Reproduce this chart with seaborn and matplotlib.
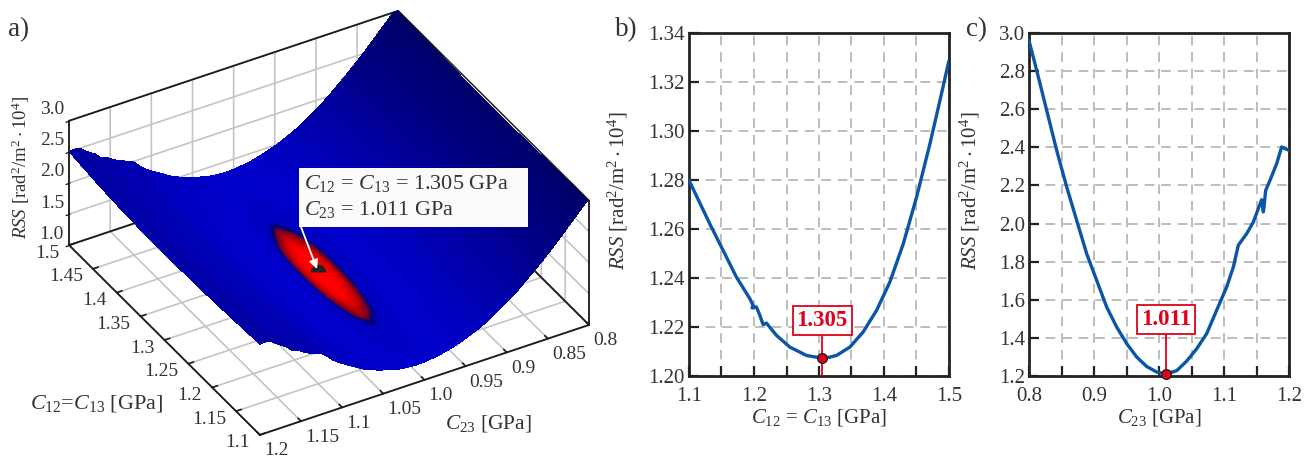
import numpy as np
import pandas as pd
import matplotlib
matplotlib.use("Agg")
import matplotlib.pyplot as plt
import seaborn as sns
from matplotlib.patches import Rectangle
from matplotlib.path import Path
from mpl_toolkits.mplot3d import proj3d

# ---------- data ----------
c12_profile = [1.100, 1.1318, 1.1575, 1.1729, 1.1935, 1.1986, 1.197, 1.2037, 1.2089, 1.214, 1.2191,
               1.2345, 1.2551, 1.2807, 1.2930, 1.3044, 1.3150, 1.327, 1.3475, 1.368, 1.3886,
               1.4091, 1.4297, 1.4502, 1.4707, 1.4861, 1.500]
rss_b = [1.2799, 1.2622, 1.2486, 1.2404, 1.2316, 1.2288, 1.2278, 1.2282, 1.2248, 1.2210, 1.2216,
         1.2166, 1.2118, 1.2084, 1.2078, 1.2075, 1.2076, 1.2084, 1.2118, 1.2180, 1.2268,
         1.2384, 1.2540, 1.2731, 1.2948, 1.3125, 1.3288]
c23_profile = [0.800, 0.8118, 0.8272, 0.8426, 0.858, 0.8733, 0.8887, 0.9041, 0.9195, 0.9349, 0.9503,
               0.9656, 0.981, 0.9964, 1.0108, 1.0272, 1.0426, 1.058, 1.0733, 1.0887, 1.1041, 1.1144,
               1.122, 1.1349, 1.1451, 1.1528, 1.1579, 1.1605, 1.1615, 1.1641, 1.1708, 1.181, 1.1887, 1.200]
rss_c = [2.96, 2.804, 2.594, 2.384, 2.192, 2.017, 1.842, 1.702, 1.562, 1.457, 1.370,
         1.300, 1.250, 1.221, 1.2105, 1.228, 1.278, 1.343, 1.422, 1.545, 1.667, 1.772,
         1.886, 1.947, 2.008, 2.078, 2.125, 2.061, 2.087, 2.174, 2.227, 2.314, 2.402, 2.384]
min_c12, min_c23 = 1.305, 1.011
min_b, min_c = 1.2075, 1.2105

c12_ticks = [1.1, 1.15, 1.2, 1.25, 1.3, 1.35, 1.4, 1.45, 1.5]
c12_labels = ["1.1", "1.15", "1.2", "1.25", "1.3", "1.35", "1.4", "1.45", "1.5"]
c23_ticks = [0.8, 0.85, 0.9, 0.95, 1.0, 1.05, 1.1, 1.15, 1.2]
c23_labels = ["0.8", "0.85", "0.9", "0.95", "1.0", "1.05", "1.1", "1.15", "1.2"]
z_ticks = [1.0, 1.5, 2.0, 2.5, 3.0]
z_labels = ["1.0", "1.5", "2.0", "2.5", "3.0"]
b_yticks = [1.20, 1.22, 1.24, 1.26, 1.28, 1.30, 1.32, 1.34]
b_xlabels = [1.1, 1.2, 1.3, 1.4, 1.5]
c_yticks = [1.2, 1.4, 1.6, 1.8, 2.0, 2.2, 2.4, 2.6, 2.8, 3.0]
c_xlabels = [0.8, 0.9, 1.0, 1.1, 1.2]

# colour stops of the surface against RSS
stop_z = [1.21, 1.216, 1.222, 1.228, 1.2325, 1.2345, 1.236, 1.24, 1.30, 1.7, 2.4, 3.0]
stop_r = [255, 255, 225, 160, 100, 20, 0, 0, 0, 0, 0, 0]
stop_g = [0, 0, 0, 0, 0, 0, 0, 0, 0, 0, 0, 0]
stop_b = [0, 0, 0, 15, 50, 90, 110, 190, 205, 175, 132, 105]

# ---------- style ----------
sns.set_theme(style="ticks")
INK = "#333333"
plt.rcParams.update({
    "font.family": ["Liberation Serif", "DejaVu Serif"],
    "mathtext.fontset": "custom",
    "mathtext.rm": "Liberation Serif",
    "mathtext.it": "Liberation Serif:italic",
    "mathtext.bf": "Liberation Serif:bold",
    "mathtext.fallback": "stix",
    "text.color": INK, "axes.labelcolor": INK,
    "xtick.color": INK, "ytick.color": INK,
})
W, H = 1312, 457
fig = plt.figure(figsize=(W / 100, H / 100), dpi=100, facecolor="white")


def rect(l, t, r, b):
    return [l / W, 1 - b / H, (r - l) / W, (b - t) / H]


def smooth(v, n):
    k = np.ones(n) / n
    p = np.pad(v, n, mode="edge")
    return np.convolve(p, k, mode="same")[n:-n]


# ---------- panel a ----------
ax3 = fig.add_axes([0.02, 0.0, 0.4, 0.4 * W / H], projection="3d", computed_zorder=False)
ax3.set_proj_type("ortho")
ax3.view_init(elev=35.2, azim=149.9)
ax3.set_box_aspect((1, 1, 0.40))
ax3.set_xlim(1.1, 1.5, view_margin=0)
ax3.set_ylim(0.8, 1.2, view_margin=0)
ax3.set_zlim(1.0, 3.0, view_margin=0)
ax3.patch.set_alpha(0)


def to_pixels(x, y, z):
    px, py, _z = proj3d.proj_transform(x, y, z, ax3.get_proj())
    return ax3.transData.transform((px, py))


# fit the box on the picture: left-floor, bottom and right corners
targets = {(1.5, 1.2, 1.0): (69, 245), (1.1, 1.2, 1.0): (260, 435), (1.1, 0.8, 1.0): (589, 325)}
for _ in range(3):
    fig.canvas.draw()
    pts = np.array([to_pixels(*k) for k in targets])
    goal = np.array([(a, H - b) for a, b in targets.values()], float)
    scale = (goal[2, 0] - goal[0, 0]) / (pts[2, 0] - pts[0, 0])
    pos = ax3.get_position()
    w = pos.width * scale
    h = pos.height * scale
    cx = (pos.x0 + pos.width / 2) * W
    cy = (pos.y0 + pos.height / 2) * H
    pc = pts.mean(axis=0)
    gc = goal.mean(axis=0)
    ncx = gc[0] - (pc[0] - cx) * scale
    ncy = gc[1] - (pc[1] - cy) * scale
    ax3.set_position([ncx / W - w / 2, ncy / H - h / 2, w, h])
fig.canvas.draw()

gx = np.linspace(1.1, 1.5, 201)
gy = np.linspace(0.8, 1.2, 401)
ob = np.argsort(c12_profile)
oc = np.argsort(c23_profile)
fb = smooth(np.interp(gx, np.array(c12_profile)[ob], np.array(rss_b)[ob]), 7)
fc = smooth(np.interp(gy, np.array(c23_profile)[oc], np.array(rss_c)[oc]), 9)
X, Y = np.meshgrid(gx, gy)
Z = np.minimum(fb[None, :] + fc[:, None] - min_b, 3.0)
Zc = Z - 4.0 * np.clip(Y - 1.05, 0, None)   # the high C23 flank reads brighter in the picture
colours = np.dstack([np.interp(Zc, stop_z, stop_r) / 255, np.interp(Zc, stop_z, stop_g) / 255,
                     np.interp(Zc, stop_z, stop_b) / 255, np.ones_like(Z)])
ax3.plot_surface(X, Y, Z, facecolors=colours, rstride=1, cstride=1, linewidth=0,
                 antialiased=False, shade=False, zorder=3)
arc = np.linspace(0, np.pi, 25)
dome = Path(np.column_stack([np.cos(arc), np.sin(arc)]).tolist() + [[1.0, 0.0]], closed=True)
ax3.scatter([min_c12], [min_c23], [min_c + 0.01], s=125, marker=dome, color="#222222",
            depthshade=False, linewidths=0, zorder=5)

frame = [((1.5, 1.5), (1.2, 1.2), (1, 3)), ((1.5, 1.5), (1.2, 0.8), (3, 3)),
         ((1.1, 1.1), (0.8, 0.8), (1, 3)),
         ((1.5, 1.1), (1.2, 1.2), (1, 1)), ((1.1, 1.1), (1.2, 0.8), (1, 1)),
         ((1.5, 1.5), (1.2, 0.8), (1, 1)), ((1.5, 1.1), (0.8, 0.8), (1, 1))]
for fx, fy, fz in frame:
    ax3.plot(fx, fy, fz, color="#1a1a1a", lw=1.3, zorder=2)
ax3.plot((1.5, 1.1), (0.8, 0.8), (3, 3), color="#1a1a1a", lw=1.0, zorder=4)

for axis, ticks in [(ax3.xaxis, c12_ticks), (ax3.yaxis, c23_ticks), (ax3.zaxis, z_ticks)]:
    axis.set_ticks(ticks)
    axis.set_ticklabels([""] * len(ticks))
    axis.set_pane_color((1, 1, 1, 1))
    axis.pane.set_edgecolor("none")
    axis.line.set_color("none")
    axis._axinfo["grid"].update(color="#c4c4c4", linewidth=1.2)
    axis._axinfo["tick"].update(inward_factor=0.0, outward_factor=0.2)
ax3.zaxis._axinfo["tick"].update(inward_factor=0.0, outward_factor=0.0)
ax3.tick_params(axis="both", color="#222222")
ax3.grid(True)

# ---------- panels b, c ----------
axb = fig.add_axes(rect(689, 33, 949, 376))
axc = fig.add_axes(rect(1029, 33, 1289, 376))
BLUE = "#0B55A8"
RED = "#E0001B"
frames = [pd.DataFrame({"x": c12_profile, "y": rss_b}), pd.DataFrame({"x": c23_profile, "y": rss_c})]
specs = [
    (axb, frames[0], (1.1, 1.5), (1.20, 1.34), b_yticks, b_xlabels, "%.2f",
     r"$C_{12}$ = $C_{13}$ [GPa]", min_c12, min_b, "1.305", 1.2228, -0.227),
    (axc, frames[1], (0.8, 1.2), (1.2, 3.0), c_yticks, c_xlabels, "%.1f",
     r"$C_{23}$ [GPa]", min_c23, min_c, "1.011", 1.497, -0.18),
]
for ax, df, xl, yl, yt, xt, fmt, xlabel, mx, my, txt, boxy, ylx in specs:
    ax.set_xlim(*xl)
    ax.set_ylim(*yl)
    step = (xt[1] - xt[0]) / 2
    xticks = [xt[0] + i * step for i in range(9)]
    ax.set_xticks(xticks)
    ax.set_xticklabels([("%.1f" % v) if i % 2 == 0 else "" for i, v in enumerate(xticks)], fontsize=15)
    ax.set_yticks(yt)
    ax.set_yticklabels([fmt % v for v in yt], fontsize=15)
    ax.tick_params(direction="in", length=7, width=1.6, color="#222222", pad=3)
    ax.tick_params(axis="x", pad=8)
    ax.grid(True, color="#bdbdbd", lw=1.4, ls=(0, (5, 3.5)))
    ax.set_axisbelow(True)
    for s in ax.spines.values():
        s.set_linewidth(2.0)
        s.set_color("#222222")
    sns.lineplot(data=df, x="x", y="y", sort=False, estimator=None, color=BLUE, lw=2.4, ax=ax, zorder=3)
    ax.vlines(mx, yl[0], boxy, color=RED, lw=1.3, zorder=4)
    ax.plot([mx], [my], "o", ms=7, mfc=RED, mec="#222222", mew=1.0, zorder=6, clip_on=False)
    ax.text(mx, boxy, txt, color=RED, fontsize=16.5, fontweight="bold", ha="center", va="center", zorder=7,
            bbox=dict(boxstyle="square,pad=0.17", fc="white", ec=RED, lw=1.3))
    ax.set_xlabel(xlabel, fontsize=15, labelpad=1)
    ax.set_ylabel(r"$\mathit{RSS}$ [rad$^2$/m$^2\cdot$10$^4$]", fontsize=15)
    ax.yaxis.set_label_coords(ylx, 0.54)

# ---------- overlay for panel a texts ----------
ov = fig.add_axes([0, 0, 1, 1], facecolor="none")
ov.set_xlim(0, W)
ov.set_ylim(H, 0)
ov.axis("off")


def screen(x, y, z):
    p = to_pixels(x, y, z)
    return p[0], H - p[1]


for v, lab in zip(c12_ticks, c12_labels):
    sx, sy = screen(v, 1.2, 1.0)
    ov.text(sx - 10, sy + 8, lab, fontsize=14, ha="right", va="center")
for v, lab in zip(c23_ticks, c23_labels):
    sx, sy = screen(1.1, v, 1.0)
    ov.text(sx + 4, sy + 16, lab, fontsize=14, ha="left", va="center")
for v, lab in zip(z_ticks, z_labels):
    sx, sy = screen(1.5, 1.2, v)
    ov.text(sx - 5, sy - 11, lab, fontsize=14, ha="right", va="center")
    ov.plot([sx - 3, sx + 1], [sy + 1.5, sy], color="#222222", lw=1.0)

ov.add_patch(Rectangle((299, 168), 229, 59, fc="#fbfbfb", ec="none", zorder=2))
ov.text(304, 183, r"$C_{12}$ = $C_{13}$ = 1.305 GPa", fontsize=16, va="center", zorder=3)
ov.text(304, 209, r"$C_{23}$ = 1.011 GPa", fontsize=16, va="center", zorder=3)
ov.annotate("", xy=(317, 269), xytext=(301, 227), zorder=3,
            arrowprops=dict(arrowstyle="-|>", color="white", lw=1.3, mutation_scale=13, shrinkA=0, shrinkB=0))
ov.text(21, 168, r"$\mathit{RSS}$ [rad$^2$/m$^2\cdot$10$^4$]", fontsize=13.5, rotation=90, ha="center", va="center")
ov.text(30, 403, r"$C_{12}$=$C_{13}$ [GPa]", fontsize=16, va="center")
ov.text(445, 424, r"$C_{23}$ [GPa]", fontsize=15.5, va="center")
ov.text(8, 30, "a)", fontsize=19.5, va="center")
ov.text(615, 30, "b)", fontsize=19.5, va="center")
ov.text(966, 30, "c)", fontsize=19.5, va="center")

fig.savefig("out.png", dpi=100)
